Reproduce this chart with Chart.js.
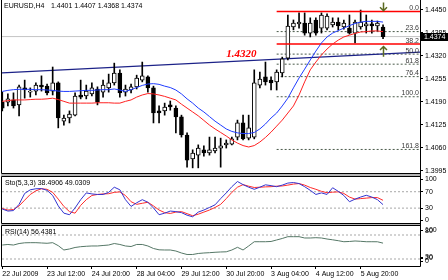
<!DOCTYPE html>
<html><head><meta charset="utf-8">
<script src="https://cdn.jsdelivr.net/npm/chart.js@4.4.0/dist/chart.umd.min.js"></script>
<style>
html,body{margin:0;padding:0;background:#fff;}
body{width:448px;height:280px;position:relative;overflow:hidden;}
canvas{position:absolute;left:0;}
</style></head><body>
<canvas id="cMain" width="448" height="176" style="top:0px"></canvas>
<canvas id="cSto" width="448" height="49" style="top:176px"></canvas>
<canvas id="cRsi" width="448" height="55" style="top:225px"></canvas>
<script>
// ---------------- DATA ----------------
const symbol = 'EURUSD,H4';
const opens = [1.4189,1.4189,1.4195,1.4181,1.4229,1.4217,1.4220,1.4237,1.4234,1.4220,1.4243,1.4135,1.4144,1.4152,1.4209,1.4206,1.4212,1.4226,1.4217,1.4229,1.4243,1.4271,1.4217,1.4223,1.4232,1.4251,1.4260,1.4229,1.4164,1.4164,1.4181,1.4172,1.4147,1.4096,1.4028,1.4039,1.4054,1.4045,1.4051,1.4059,1.4068,1.4070,1.4090,1.4130,1.4087,1.4090,1.4237,1.4260,1.4251,1.4246,1.4271,1.4313,1.4401,1.4410,1.4412,1.4384,1.4421,1.4398,1.4398,1.4407,1.4415,1.4401,1.4398,1.4384,1.4401,1.4404,1.4410,1.4404,1.4401];
const highs = [1.4217,1.4212,1.4215,1.4237,1.4251,1.4229,1.4243,1.4263,1.4240,1.4288,1.4246,1.4152,1.4164,1.4215,1.4251,1.4237,1.4243,1.4232,1.4251,1.4268,1.4299,1.4280,1.4237,1.4240,1.4265,1.4302,1.4263,1.4234,1.4178,1.4186,1.4192,1.4178,1.4152,1.4102,1.4054,1.4068,1.4065,1.4090,1.4090,1.4087,1.4082,1.4090,1.4138,1.4152,1.4152,1.4280,1.4274,1.4302,1.4260,1.4280,1.4316,1.4435,1.4421,1.4441,1.4441,1.4427,1.4427,1.4441,1.4438,1.4427,1.4427,1.4421,1.4435,1.4421,1.4449,1.4435,1.4421,1.4418,1.4407];
const lows = [1.4164,1.4178,1.4172,1.4150,1.4200,1.4203,1.4209,1.4220,1.4209,1.4209,1.4116,1.4124,1.4130,1.4150,1.4198,1.4198,1.4206,1.4181,1.4203,1.4217,1.4237,1.4203,1.4206,1.4215,1.4226,1.4246,1.4217,1.4130,1.4130,1.4152,1.4166,1.4102,1.4090,1.4005,1.4003,1.4003,1.4036,1.4039,1.4045,1.4005,1.4059,1.4068,1.4082,1.4082,1.4082,1.4085,1.4229,1.4237,1.4223,1.4223,1.4260,1.4308,1.4393,1.4398,1.4378,1.4373,1.4378,1.4384,1.4393,1.4401,1.4393,1.4395,1.4381,1.4356,1.4395,1.4384,1.4384,1.4390,1.4368];
const closes = [1.4172,1.4198,1.4178,1.4232,1.4223,1.4220,1.4237,1.4232,1.4215,1.4243,1.4144,1.4144,1.4155,1.4206,1.4203,1.4220,1.4229,1.4189,1.4237,1.4243,1.4271,1.4215,1.4226,1.4232,1.4257,1.4263,1.4229,1.4158,1.4158,1.4175,1.4175,1.4147,1.4096,1.4025,1.4045,1.4059,1.4045,1.4054,1.4059,1.4065,1.4073,1.4085,1.4130,1.4085,1.4116,1.4243,1.4254,1.4246,1.4243,1.4274,1.4311,1.4404,1.4412,1.4415,1.4384,1.4412,1.4384,1.4435,1.4432,1.4415,1.4404,1.4412,1.4384,1.4415,1.4415,1.4410,1.4404,1.4412,1.4374];
const maFast = [1.4219,1.4222,1.4224,1.4225,1.4225,1.4225,1.4224,1.4224,1.4223,1.4222,1.4220,1.4219,1.4219,1.4220,1.4221,1.4222,1.4222,1.4223,1.4224,1.4224,1.4226,1.4223,1.4219,1.4224,1.4230,1.4236,1.4240,1.4241,1.4239,1.4234,1.4230,1.4223,1.4212,1.4198,1.4186,1.4172,1.4161,1.4148,1.4135,1.4124,1.4113,1.4106,1.4102,1.4100,1.4100,1.4103,1.4113,1.4127,1.4144,1.4158,1.4178,1.4200,1.4229,1.4257,1.4282,1.4308,1.4333,1.4356,1.4373,1.4384,1.4391,1.4398,1.4405,1.4411,1.4415,1.4417,1.4417,1.4417,1.4415];
const maSlow = [1.4191,1.4193,1.4195,1.4195,1.4195,1.4196,1.4197,1.4197,1.4198,1.4200,1.4196,1.4191,1.4186,1.4186,1.4186,1.4186,1.4186,1.4187,1.4187,1.4187,1.4186,1.4186,1.4191,1.4195,1.4203,1.4209,1.4213,1.4212,1.4209,1.4205,1.4200,1.4195,1.4183,1.4172,1.4161,1.4150,1.4137,1.4124,1.4113,1.4103,1.4093,1.4082,1.4073,1.4066,1.4062,1.4066,1.4076,1.4089,1.4104,1.4121,1.4138,1.4158,1.4178,1.4209,1.4246,1.4280,1.4302,1.4322,1.4339,1.4353,1.4364,1.4373,1.4378,1.4383,1.4387,1.4388,1.4390,1.4390,1.4388];
const stoMain = [27.8,22.8,24,39.2,65.8,74.7,77.2,77.7,73.4,60.8,35.4,17.7,13.9,30.4,50.6,67.1,64.6,63.3,63.3,68.4,81,74.7,50.6,34.2,43,50.6,44.3,30.4,13.9,17.7,22.8,21.5,19,12.7,8.9,20.3,25.3,31.6,38,53.2,67.1,82.3,94.9,87.3,81,75.9,81,86.8,84.8,82.3,86.1,91.1,92.4,89.9,82.3,73.4,63.3,67.1,63.3,79.7,70.9,60.8,45.6,51.9,57,61.3,57,50.6,38.4906];
const stoSignal = [29.1,25.3,26.6,35.4,49.4,63.3,72.2,77.2,75.9,68.4,51.9,34.2,21.5,17.7,36.7,50.6,60.8,63.3,64.6,65.1,68.4,69.6,60.8,45.6,39.2,41.8,44.3,35.4,25.3,19,17,20.3,21.5,16.5,11.4,15.2,20.3,25.3,31.6,39.2,53.2,68.4,81,87.3,83.5,80.3,81,81.8,82.3,83.5,84,86.1,88.6,89.9,86.1,80.3,75.9,70.9,67.6,68.9,69.6,65.8,57,51.9,53.2,54.4,55.7,55.7,49.0309];
const rsi = [53.3,54.2,53.3,55.8,57,57.2,57.2,56.7,56.2,57.2,52.2,45,46.7,49.2,50.5,51.2,51.7,51.7,52.5,53.3,55.8,54.2,51.7,50.8,54.2,54.2,51.7,47.5,45.3,45,45,43.3,40,37.5,37.5,39.2,40,40.5,41.2,41.7,42,45,49.5,45,51.7,58.8,58.8,58.8,59.2,61.7,64.2,67.2,67.2,67.2,65,65,65.5,65,63.3,62,60.5,58.8,59.2,60,59.5,58.8,58.8,58.7,56.4381];
const tickBars = [0,8,16,24,32,40,48,56,64];
const tickLabels = ['22 Jul 2009','23 Jul 12:00','24 Jul 20:00','28 Jul 04:00','29 Jul 12:00','30 Jul 20:00','3 Aug 04:00','4 Aug 12:00','5 Aug 20:00'];
const priceTicks = [1.3995,1.4060,1.4125,1.4190,1.4255,1.4320,1.4385,1.4450];
const stoTicks = [0,30,70,100];
const stoLevels = [30,70];
const rsiLevels = [30,70];
const rsiTickValues = [77.8,76.7,32.5,30.8,25.8];
const rsiTickLabels = ['100','80','30','20','0'];
const trendLine = [{x:-0.4,y:1.4271},{x:74.6,y:1.4330}];
const trendLabel = {x:40, y:1.4316, text:'1.4320'};
const fibHigh = 1.4445, fibLow = 1.4204, fibStartBar = 49;
const fibLevels = [0,23.6,38.2,50,61.8,76.4,100,161.8];
const channelLevels = [0,38.2];
const arrows = [{x:68, from:1.4470, to:1.4447}, {x:68, from:1.4317, to:1.4346}];
const currentPrice = 1.4374;

// ---------------- SETUP ----------------
const FONT = '"Liberation Sans", Arial, sans-serif';
const xMin = -0.05, xMax = 74.6;
const idx = closes.map((_, i) => i);
const fibPrice = l => fibHigh - (fibHigh - fibLow) * l / 100;
const hline = (y, x0 = xMin, x1 = xMax) => [{x:x0, y}, {x:x1, y}];
const xScale = (extra) => Object.assign({type:'linear', min:xMin, max:xMax, offset:false, display:false}, extra || {});
const yAxisCommon = {
  position:'right',
  afterFit(s){ s.width = 28; s.paddingTop = 0; s.paddingBottom = 0; },
  grid:{drawOnChartArea:false, drawTicks:true, tickLength:3, color:'#000'},
  border:{display:false}
};
const tickFont = {family:FONT, size:7};
const baseOpts = {
  responsive:false, animation:false, devicePixelRatio:1,
  plugins:{legend:{display:false}, tooltip:{enabled:false}},
  elements:{point:{radius:0}, line:{tension:0}}
};

function frame(ctx, a, H, opts) {
  ctx.save();
  ctx.strokeStyle = '#000'; ctx.lineWidth = 1;
  ctx.beginPath();
  if (opts.top) { ctx.moveTo(a.left - 0.5, a.top - 0.5); ctx.lineTo(a.right + 0.5, a.top - 0.5); }
  ctx.moveTo(a.left - 0.5, opts.top ? a.top - 0.5 : 0); ctx.lineTo(a.left - 0.5, a.bottom + 0.5);
  ctx.lineTo(a.right + 0.5, a.bottom + 0.5);
  ctx.moveTo(a.right + 0.5, 0); ctx.lineTo(a.right + 0.5, opts.rightToBottom ? a.bottom + 0.5 : H);
  ctx.stroke();
  if (opts.band) { ctx.fillStyle = '#b4b4b4'; ctx.fillRect(a.left - 1, a.bottom + 1, a.right - a.left + 1, opts.band); }
  ctx.restore();
}
function label(ctx, text, x, y, color, align) {
  ctx.save();
  ctx.font = '7px ' + FONT; ctx.fillStyle = color || '#000';
  ctx.textAlign = align || 'left'; ctx.textBaseline = 'middle';
  ctx.fillText(text, x, y);
  ctx.restore();
}

// ---------------- MAIN CHART ----------------
const mainDatasets = [
  {type:'line', data:hline(currentPrice), borderColor:'#c4c4c4', borderWidth:1, order:9},
  ...fibLevels.filter(l => !channelLevels.includes(l)).map(l => ({type:'line', data:hline(fibPrice(l), fibStartBar), borderColor:'#4a5a4a', borderWidth:1, borderDash:[2,2], order:8})),
  {type:'line', data:trendLine, borderColor:'#1c2288', borderWidth:1.3, order:7},
  {type:'bar', data:idx.map(i => ({x:i, y:[lows[i], highs[i]]})), backgroundColor:'#000', borderWidth:0, barThickness:1, grouped:false, order:5},
  {type:'bar', data:idx.map(i => ({x:i, y:[opens[i], closes[i]]})),
   backgroundColor:c => closes[c.dataIndex] >= opens[c.dataIndex] ? '#fff' : '#000',
   borderColor:'#000', borderWidth:1, borderSkipped:false, barThickness:4, minBarLength:1, grouped:false, order:4},
  ...channelLevels.map(l => ({type:'line', data:hline(fibPrice(l), fibStartBar), borderColor:'#ff0000', borderWidth:1.6, order:3})),
  {type:'line', data:idx.map(i => ({x:i, y:maSlow[i]})), borderColor:'#ff2020', borderWidth:1, order:2},
  {type:'line', data:idx.map(i => ({x:i, y:maFast[i]})), borderColor:'#1f3cff', borderWidth:1, order:1}
];
const mainDeco = {
  id:'mainDeco',
  afterDraw(chart){
    const {ctx, chartArea:a, scales:{x, y}} = chart;
    frame(ctx, a, chart.height, {band:2});
    ctx.save();
    const last = closes.length - 1;
    label(ctx, symbol, 4, 6.5);
    label(ctx, [opens[last], highs[last], lows[last], closes[last]].map(v => v.toFixed(4)).join(' '), 51, 6.5);
    fibLevels.forEach(l => {
      ctx.font = '7px ' + FONT; ctx.fillStyle = '#3a3a3a'; ctx.textAlign = 'right'; ctx.textBaseline = 'alphabetic';
      ctx.fillText(l.toFixed(1), 419, y.getPixelForValue(fibPrice(l)) - 1.5);
    });
    ctx.font = 'italic bold 11px "Liberation Serif", "Times New Roman", serif';
    ctx.fillStyle = '#ff0000'; ctx.textAlign = 'left'; ctx.textBaseline = 'alphabetic';
    ctx.fillText(trendLabel.text, x.getPixelForValue(trendLabel.x), y.getPixelForValue(trendLabel.y));
    ctx.strokeStyle = '#5a6a20'; ctx.lineWidth = 1.5;
    arrows.forEach(ar => {
      const px = Math.round(x.getPixelForValue(ar.x)) + 0.5;
      const y0 = y.getPixelForValue(ar.from), y1 = y.getPixelForValue(ar.to);
      const d = y1 > y0 ? 1 : -1;
      ctx.beginPath();
      ctx.moveTo(px, y0); ctx.lineTo(px, y1);
      ctx.moveTo(px - 3.5, y1 - d * 3.5); ctx.lineTo(px, y1); ctx.lineTo(px + 3.5, y1 - d * 3.5);
      ctx.stroke();
    });
    const cy = y.getPixelForValue(currentPrice);
    ctx.fillStyle = '#000'; ctx.fillRect(a.right + 1, Math.round(cy) - 4, chart.width - a.right - 1, 8);
    ctx.restore();
    label(ctx, currentPrice.toFixed(4), a.right + 4, Math.round(cy), '#fff');
  }
};
new Chart(document.getElementById('cMain'), {
  type:'bar',
  data:{datasets:mainDatasets},
  options:Object.assign({}, baseOpts, {
    layout:{padding:{top:0, left:2, right:0, bottom:3}},
    scales:{
      x:xScale(),
      y:Object.assign({}, yAxisCommon, {type:'linear', min:1.39885, max:1.44774,
        afterBuildTicks(s){ s.ticks = priceTicks.map(v => ({value:v})); },
        ticks:{callback:v => v.toFixed(4), font:tickFont, color:'#000', padding:2, autoSkip:false}})
    }
  }),
  plugins:[mainDeco]
});

// ---------------- STOCHASTIC ----------------
const stoDeco = {
  id:'stoDeco',
  afterDraw(chart){
    frame(chart.ctx, chart.chartArea, chart.height, {top:true, band:1});
    label(chart.ctx, 'Sto(5,3,3) ' + stoMain[stoMain.length-1].toFixed(4) + ' ' + stoSignal[stoSignal.length-1].toFixed(4), 5, 7);
  }
};
new Chart(document.getElementById('cSto'), {
  type:'line',
  data:{datasets:[
    ...stoLevels.map(l => ({data:hline(l), borderColor:'#a8a8a8', borderWidth:1, borderDash:[2,2], order:5})),
    {data:idx.map(i => ({x:i, y:stoSignal[i]})), borderColor:'#ff2b2b', borderWidth:1, order:2},
    {data:idx.map(i => ({x:i, y:stoMain[i]})), borderColor:'#3434d0', borderWidth:1, order:1}
  ]},
  options:Object.assign({}, baseOpts, {
    layout:{padding:{top:1, left:2, right:0, bottom:2}},
    scales:{
      x:xScale(),
      y:Object.assign({}, yAxisCommon, {type:'linear', min:-6.3, max:105.9,
        afterBuildTicks(s){ s.ticks = stoTicks.map(v => ({value:v})); },
        ticks:{callback:v => String(v), font:tickFont, color:'#000', padding:2, autoSkip:false}})
    }
  }),
  plugins:[stoDeco]
});

// ---------------- RSI ----------------
const rsiDeco = {
  id:'rsiDeco',
  afterDraw(chart){
    frame(chart.ctx, chart.chartArea, chart.height, {top:true, rightToBottom:true});
    label(chart.ctx, 'RSI(14) ' + rsi[rsi.length-1].toFixed(4), 5, 7);
  }
};
new Chart(document.getElementById('cRsi'), {
  type:'line',
  data:{datasets:[
    ...rsiLevels.map(l => ({data:hline(l), borderColor:'#a8a8a8', borderWidth:1, borderDash:[2,2], order:5})),
    {data:idx.map(i => ({x:i, y:rsi[i]})), borderColor:'#557766', borderWidth:1, order:1}
  ]},
  options:Object.assign({}, baseOpts, {
    layout:{padding:{top:1, left:2, right:0, bottom:0}},
    scales:{
      x:xScale({display:true, position:'bottom',
        afterBuildTicks(s){ s.ticks = tickBars.map(v => ({value:v})); },
        afterFit(s){ s.height = 14; s.paddingLeft = 0; s.paddingRight = 0; },
        ticks:{callback:(v, i) => tickLabels[i], align:'start', autoSkip:false, maxRotation:0, minRotation:0, font:tickFont, color:'#000', padding:1},
        grid:{drawOnChartArea:false, drawTicks:true, tickLength:3, color:'#000'},
        border:{display:false}}),
      y:Object.assign({}, yAxisCommon, {type:'linear', min:18.33, max:85,
        afterBuildTicks(s){ s.ticks = rsiTickValues.map(v => ({value:v})); },
        ticks:{callback:(v, i) => rsiTickLabels[i], font:tickFont, color:'#000', padding:2, autoSkip:false}})
    }
  }),
  plugins:[rsiDeco]
});
</script>
</body></html>
